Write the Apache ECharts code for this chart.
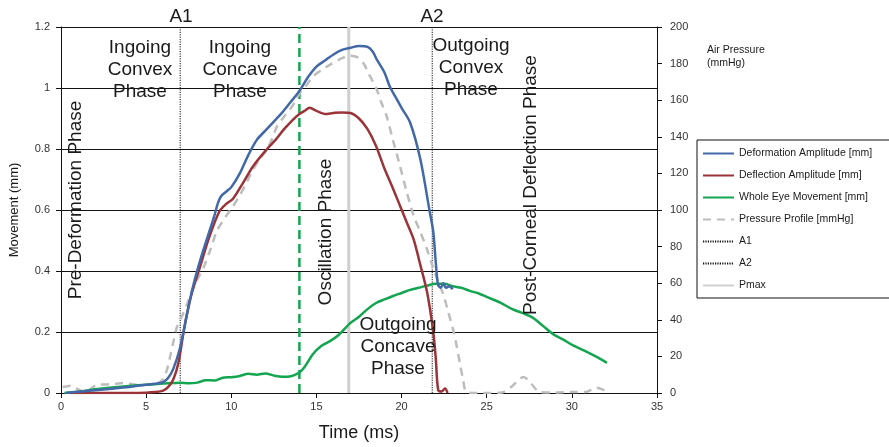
<!DOCTYPE html>
<html>
<head>
<meta charset="utf-8">
<script src="https://cdn.jsdelivr.net/npm/echarts@6/dist/echarts.min.js"></script>
<style>
  html, body { margin: 0; padding: 0; background: #fff; }
  #chart { width: 889px; height: 447px; }
</style>
</head>
<body>
<div id="chart"></div>
<script>
// 数据：时间 (ms) 与各曲线读数
var deformTime = [0.3, 1, 2, 3, 4, 5, 5.5, 6, 6.3, 6.6, 7, 7.4, 7.8, 8.2, 8.6, 9.0, 9.2, 9.4, 9.7, 10, 10.5, 11, 11.5, 12, 12.5, 13, 13.5, 14, 14.5, 15, 15.5, 16, 16.5, 17, 17.5, 18, 18.3, 18.55, 19, 19.3, 19.7, 20, 20.5, 21.1, 21.65, 21.86, 22.02, 22.14, 22.3, 22.45, 22.6, 22.8, 23.0];
var deform = [0, 0.004, 0.009, 0.014, 0.02, 0.027, 0.03, 0.036, 0.05, 0.08, 0.15, 0.26, 0.36, 0.44, 0.51, 0.58, 0.62, 0.645, 0.66, 0.675, 0.72, 0.78, 0.83, 0.86, 0.89, 0.92, 0.955, 0.99, 1.035, 1.07, 1.09, 1.11, 1.125, 1.132, 1.138, 1.135, 1.12, 1.093, 1.05, 1.006, 0.965, 0.935, 0.887, 0.767, 0.595, 0.529, 0.42, 0.355, 0.345, 0.36, 0.345, 0.35, 0.34];

var deflectTime = [0.5, 2, 4, 5, 5.5, 6, 6.3, 6.6, 6.9, 7.2, 7.6, 8.2, 8.7, 9.3, 9.7, 10.1, 10.7, 11.3, 12.1, 12.6, 13.1, 13.6, 14, 14.3, 14.6, 15, 15.5, 16, 16.5, 17, 17.5, 18, 18.5, 19, 19.5, 19.9, 20.3, 20.7, 21.1, 21.5, 21.85, 22.0, 22.15, 22.35, 22.55, 22.7];
var deflect = [0, 0, 0, 0.001, 0.003, 0.008, 0.02, 0.045, 0.1, 0.2, 0.31, 0.42, 0.51, 0.595, 0.62, 0.637, 0.69, 0.745, 0.80, 0.83, 0.865, 0.895, 0.915, 0.925, 0.935, 0.925, 0.915, 0.918, 0.92, 0.918, 0.9, 0.865, 0.81, 0.735, 0.67, 0.615, 0.56, 0.505, 0.42, 0.33, 0.205, 0.12, 0.01, 0.005, 0.015, 0];

var eyeTime = [0.2, 1, 2, 3, 4, 5, 6, 7, 7.5, 8, 8.5, 9, 9.5, 10, 10.5, 11, 11.5, 12, 12.5, 13, 13.5, 14, 14.3, 14.8, 15.3, 15.8, 16.3, 17, 17.5, 18, 18.5, 19, 19.5, 20, 20.5, 21, 21.5, 22, 22.5, 23, 23.5, 24, 24.5, 25, 25.8, 26.5, 27.2, 27.7, 28.3, 28.9, 29.5, 30.1, 30.7, 31.4, 32.06];
var eye = [0, 0.004, 0.012, 0.018, 0.023, 0.027, 0.031, 0.034, 0.032, 0.034, 0.042, 0.041, 0.05, 0.052, 0.056, 0.063, 0.06, 0.064, 0.057, 0.053, 0.055, 0.067, 0.085, 0.128, 0.155, 0.17, 0.19, 0.23, 0.25, 0.275, 0.295, 0.307, 0.318, 0.328, 0.338, 0.345, 0.352, 0.358, 0.358, 0.35, 0.345, 0.335, 0.327, 0.315, 0.296, 0.275, 0.26, 0.247, 0.22, 0.193, 0.175, 0.155, 0.14, 0.12, 0.099];

var pressTime = [0.1, 0.6, 1.0, 1.4, 2.1, 3.0, 3.65, 4.2, 4.64, 5.0, 5.42, 5.8, 6.0, 6.2, 6.4, 6.6, 6.8, 7.1, 7.4, 7.75, 8.0, 8.36, 8.8, 9.14, 9.5, 9.73, 10.1, 10.5, 10.9, 11.3, 11.7, 12.1, 12.4, 12.7, 13.1, 13.45, 13.8, 14.03, 14.4, 14.8, 15.3, 15.8, 16.4, 16.97, 17.4, 17.75, 18.1, 18.54, 18.8, 19.12, 19.5, 19.9, 20.3, 20.7, 21.1, 21.47, 21.86, 22.15, 22.45, 22.75, 23.04, 23.25, 23.43, 23.6, 23.82, 24.5, 25.2, 25.9, 26.4, 26.8, 27.15, 27.5, 27.8, 28.1, 29, 30, 30.8, 31.45, 31.9, 32.2];
var pressure = [3.3, 4, 2, 0.5, 4.3, 4.8, 5.4, 4.8, 4.3, 4.6, 5, 6, 7.8, 12, 19.5, 28, 35.8, 42, 48.4, 57.5, 62, 68.3, 79, 88.3, 94, 97.2, 102, 108, 115, 122.5, 128, 133.3, 139, 146, 151, 155, 160, 164, 168, 173, 176.5, 179.4, 182.5, 184.3, 183.5, 180.3, 174, 165.9, 159, 151.4, 138, 124.3, 110, 97.2, 88, 79.1, 68.3, 61, 53.8, 44, 34.1, 25, 15.9, 8, 0.5, 0, 0, 0.3, 3, 6.5, 8.7, 6.5, 3, 0.5, 0.3, 0.5, 0.5, 2.9, 1.5, 0];

// 竖线位置 (ms)
var a1Time = 7.0;
var a2Time = 21.8;
var pmaxTime = 16.9;
var greenMarkTime = 14.0;

var xTicks = { min: 0, max: 35, interval: 5 };
var yLeftTicks = { min: 0, max: 1.2, interval: 0.2 };
var yRightTicks = { min: 0, max: 200, interval: 20 };

var seriesNames = ['Deformation Amplitude [mm]', 'Deflection Amplitude [mm]', 'Whole Eye Movement [mm]', 'Pressure Profile [mmHg]', 'A1', 'A2', 'Pmax'];

function zip(xs, ys) {
  return xs.map(function (x, i) { return [x, ys[i]]; });
}
function vline(t) {
  return [[t, yLeftTicks.min], [t, yLeftTicks.max]];
}

var FONT = '"Liberation Sans", Arial, Helvetica, sans-serif';
var TXT = '#1a1a1a';

var myChart = echarts.init(document.getElementById('chart'));

function phaseText(text, x, y, rotate) {
  return {
    type: 'text',
    x: x,
    y: y,
    rotation: rotate ? Math.PI / 2 : 0,
    z: 50,
    style: {
      text: text,
      fill: TXT,
      font: '19px ' + FONT,
      lineHeight: 22,
      align: 'center',
      verticalAlign: 'middle'
    }
  };
}

var option = {
  animation: false,
  backgroundColor: '#fff',
  textStyle: { fontFamily: FONT },
  grid: { left: 61, right: 232, top: 27, bottom: 51 },
  legend: {
    orient: 'vertical',
    left: 697,
    top: 140,
    padding: [8, 40, 7, 5],
    itemWidth: 31,
    itemHeight: 12,
    itemGap: 11,
    borderColor: '#111',
    borderWidth: 1,
    itemStyle: { opacity: 0 },
    textStyle: { color: TXT, fontSize: 10.5, fontFamily: FONT },
    data: seriesNames
  },
  xAxis: {
    type: 'value',
    min: xTicks.min,
    max: xTicks.max,
    interval: xTicks.interval,
    name: 'Time (ms)',
    nameLocation: 'middle',
    nameGap: 31,
    nameTextStyle: { fontSize: 18, color: TXT, fontFamily: FONT },
    axisLine: { show: true, lineStyle: { color: '#111', width: 1 } },
    axisTick: { show: true, length: 5, lineStyle: { color: '#111' } },
    axisLabel: { fontSize: 11, color: '#333', margin: 8 },
    splitLine: { show: false }
  },
  yAxis: [
    {
      type: 'value',
      min: yLeftTicks.min,
      max: yLeftTicks.max,
      interval: yLeftTicks.interval,
      name: 'Movement (mm)',
      nameLocation: 'middle',
      nameRotate: 90,
      nameGap: 40,
      nameTextStyle: { fontSize: 13, color: TXT, fontFamily: FONT },
      axisLine: { show: true, lineStyle: { color: '#111', width: 1 } },
      axisTick: { show: true, length: 5, lineStyle: { color: '#111' } },
      axisLabel: { fontSize: 11, color: '#333', margin: 11 },
      splitLine: { show: true, lineStyle: { color: '#111', width: 1 } }
    },
    {
      type: 'value',
      position: 'right',
      min: yRightTicks.min,
      max: yRightTicks.max,
      interval: yRightTicks.interval,
      axisLine: { show: true, lineStyle: { color: '#111', width: 1 } },
      axisTick: { show: true, length: 5, lineStyle: { color: '#111' } },
      axisLabel: { fontSize: 11, color: '#333', margin: 13 },
      splitLine: { show: false }
    }
  ],
  graphic: [
    {
      type: 'text', x: 707, y: 44, z: 50,
      style: { text: 'Air Pressure\n(mmHg)', fill: TXT, font: '10.5px ' + FONT, lineHeight: 13, align: 'left', verticalAlign: 'top' }
    },
    phaseText('A1', 181, 17),
    phaseText('A2', 432, 17),
    phaseText('Ingoing\nConvex\nPhase', 140, 70),
    phaseText('Ingoing\nConcave\nPhase', 240, 70),
    phaseText('Outgoing\nConvex\nPhase', 471, 68),
    phaseText('Outgoing\nConcave\nPhase', 398, 347),
    phaseText('Pre-Deformation Phase', 76, 200, true),
    phaseText('Oscillation Phase', 326, 232, true),
    phaseText('Post-Corneal Deflection Phase', 531, 185, true)
  ],
  series: [
    {
      name: 'Pmax', type: 'line', data: vline(pmaxTime), symbol: 'none', z: 1,
      lineStyle: { color: '#cfcfcf', width: 3 }, itemStyle: { color: '#cfcfcf' }
    },
    {
      name: 'A1', type: 'line', data: vline(a1Time), symbol: 'none', z: 1,
      lineStyle: { color: '#111', width: 1, type: [1.2, 1.2] }, itemStyle: { color: '#111' }
    },
    {
      name: 'A2', type: 'line', data: vline(a2Time), symbol: 'none', z: 1,
      lineStyle: { color: '#111', width: 1, type: [1.2, 1.2] }, itemStyle: { color: '#111' }
    },
    {
      name: 'green-mark', type: 'line', data: vline(greenMarkTime), symbol: 'none', z: 2,
      lineStyle: { color: '#13a54f', width: 2.5, type: [9, 5] }
    },
    {
      name: 'Pressure Profile [mmHg]', type: 'line', yAxisIndex: 1, data: zip(pressTime, pressure),
      symbol: 'none', smooth: 0.3, z: 3,
      lineStyle: { color: '#bdbdbd', width: 2.5, type: [8, 6] }, itemStyle: { color: '#bdbdbd' }
    },
    {
      name: 'Whole Eye Movement [mm]', type: 'line', data: zip(eyeTime, eye),
      symbol: 'none', smooth: 0.3, z: 4,
      lineStyle: { color: '#13a54f', width: 2.5 }, itemStyle: { color: '#13a54f' }
    },
    {
      name: 'Deflection Amplitude [mm]', type: 'line', data: zip(deflectTime, deflect),
      symbol: 'none', smooth: 0.3, z: 5,
      lineStyle: { color: '#9a3438', width: 2.5 }, itemStyle: { color: '#9a3438' }
    },
    {
      name: 'Deformation Amplitude [mm]', type: 'line', data: zip(deformTime, deform),
      symbol: 'none', smooth: 0.3, z: 6,
      lineStyle: { color: '#4268a8', width: 2.5 }, itemStyle: { color: '#4268a8' }
    }
  ]
};

myChart.setOption(option);
</script>
</body>
</html>
